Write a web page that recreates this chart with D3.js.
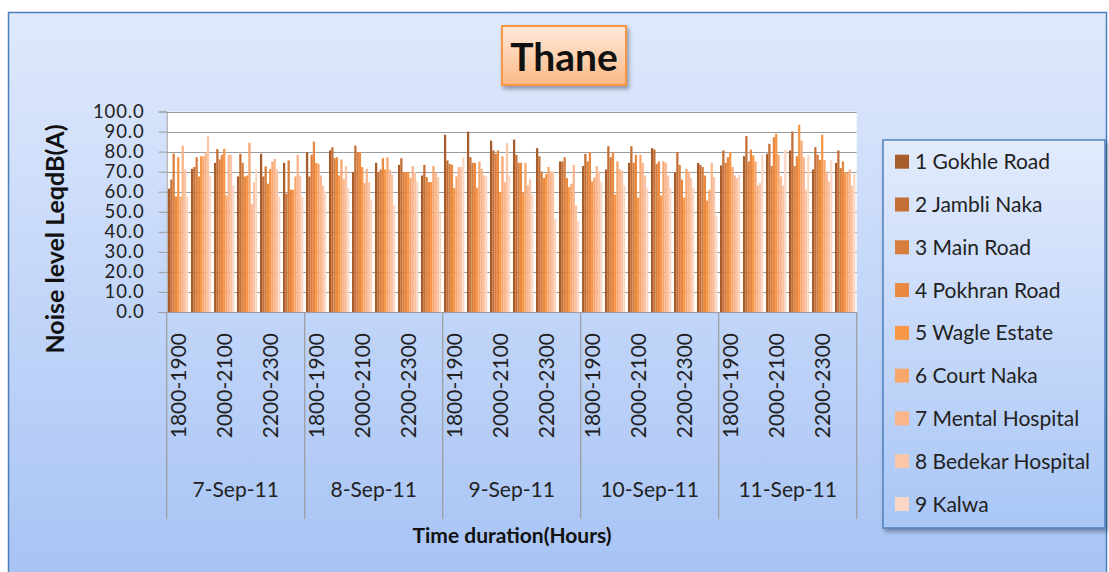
<!DOCTYPE html>
<html>
<head>
<meta charset="utf-8">
<script src="https://cdn.jsdelivr.net/npm/d3@7"></script>
<style>
  html, body { margin: 0; padding: 0; background: #ffffff; }
  svg { display: block; font-family: Lato, "Open Sans", sans-serif; }
</style>
</head>
<body>
<svg id="chart" width="1109" height="572"></svg>
<script>
// ---------------- DATA ----------------
const days = ["7-Sep-11", "8-Sep-11", "9-Sep-11", "10-Sep-11", "11-Sep-11"];
const hours = ["1800-1900", "1900-2000", "2000-2100", "2100-2200", "2200-2300", "2300-2400"];
const seriesNames = ["1 Gokhle Road", "2 Jambli Naka", "3 Main Road", "4 Pokhran Road",
  "5 Wagle Estate", "6 Court Naka", "7 Mental Hospital", "8 Bedekar Hospital", "9 Kalwa"];
const yTicks = [0, 10, 20, 30, 40, 50, 60, 70, 80, 90, 100];

// values ordered day by day, six hourly slots per day
const gokhleRoad     = [61.5,71.4,74.4,67.6,78.9,74.4, 79.7,80.6,69.8,74.4,73.4,68.1, 88.4,90.0,85.5,86.0,81.7,75.1, 72.8,71.1,74.4,81.7,69.8,74.4, 73.1,77.7,78.9,80.6,71.1,74.4];
const jambliNaka     = [66.1,72.3,81.2,78.9,67.6,59.0, 67.6,82.2,83.0,69.8,76.7,73.4, 75.6,77.2,80.6,78.4,77.7,75.1, 78.9,82.7,82.7,81.0,79.7,73.4, 80.6,87.7,83.9,90.0,82.2,80.6];
const mainRoad       = [79.0,77.2,76.1,74.4,72.6,75.6, 78.4,76.7,79.7,71.1,69.8,67.3, 73.9,74.4,78.9,74.4,70.1,77.2, 75.1,77.2,74.4,73.9,73.4,72.3, 74.4,75.1,72.8,72.8,78.4,71.8];
const pokhranRoad    = [57.6,67.6,78.4,67.6,64.0,61.0, 85.0,77.2,79.7,76.7,69.8,64.8, 73.4,74.4,80.6,74.4,66.8,66.8, 79.7,79.7,78.4,75.1,66.0,68.1, 77.2,81.0,87.2,77.7,75.9,75.1];
const wagleEstate    = [77.2,77.7,81.4,68.1,71.4,61.0, 74.4,68.1,72.3,71.1,69.8,64.8, 61.8,62.0,59.8,59.5,68.9,62.3, 65.1,58.6,57.0,58.1,57.0,55.6, 79.7,78.1,88.9,93.4,88.4,69.8];
const courtNaka      = [57.6,77.7,58.1,84.4,75.1,67.6, 73.9,76.1,64.3,77.2,67.0,72.8, 67.6,75.1,77.7,74.4,72.3,64.0, 67.0,75.1,78.4,75.1,71.4,61.0, 72.3,75.1,78.4,85.5,75.9,69.4];
const mentalHospital = [83.0,79.7,78.4,53.7,76.4,78.4, 68.1,66.4,71.4,71.1,72.8,69.4, 72.3,71.4,64.8,63.1,70.1,73.4, 72.8,71.1,74.4,74.4,70.1,74.4, 68.1,63.1,67.6,77.2,70.1,71.1];
const bedekarHospital= [71.1,87.7,78.4,64.8,71.1,68.1, 63.1,72.8,64.8,68.6,69.8,67.3, 72.3,68.1,84.2,66.2,70.1,53.2, 70.1,70.6,68.1,68.1,67.0,67.3, 66.8,64.3,63.1,61.0,65.1,63.1];
const kalwa          = [57.6,68.0,63.1,71.1,57.6,57.6, 60.0,62.0,55.6,53.2,65.0,49.5, 77.2,68.0,68.1,58.6,46.5,45.3, 64.8,63.1,62.0,62.0,62.0,48.2, 68.6,78.4,81.0,78.4,75.6,68.9];

const seriesValues = [gokhleRoad, jambliNaka, mainRoad, pokhranRoad, wagleEstate,
  courtNaka, mentalHospital, bedekarHospital, kalwa];
const seriesColors = ["#a65c2b", "#c46f35", "#d87e3c", "#ea8a40", "#f79646",
  "#f9a66d", "#fab58b", "#fbc6a8", "#fcd8c4"];

// ---------------- LAYOUT ----------------
const svg = d3.select("#chart");
const defs = svg.append("defs");
const plot = { left: 166.7, right: 856.7, top: 111.5, bottom: 312 };

const bg = defs.append("linearGradient").attr("id", "bgGrad").attr("x1", 0).attr("y1", 0).attr("x2", 0).attr("y2", 1);
bg.append("stop").attr("offset", "0%").attr("stop-color", "#dfe9fc");
bg.append("stop").attr("offset", "100%").attr("stop-color", "#a2c0f4");
const lg = defs.append("linearGradient").attr("id", "legGrad").attr("x1", 0).attr("y1", 0).attr("x2", 0).attr("y2", 1);
lg.append("stop").attr("offset", "0%").attr("stop-color", "#e2ebfc");
lg.append("stop").attr("offset", "100%").attr("stop-color", "#a9c6f6");
const tg = defs.append("linearGradient").attr("id", "titleGrad").attr("x1", 0).attr("y1", 0).attr("x2", 0).attr("y2", 1);
tg.append("stop").attr("offset", "0%").attr("stop-color", "#feeadb");
tg.append("stop").attr("offset", "100%").attr("stop-color", "#fbb986");
const sh = defs.append("filter").attr("id", "shadow").attr("x", "-10%").attr("y", "-10%").attr("width", "130%").attr("height", "130%");
sh.append("feDropShadow").attr("dx", 2).attr("dy", 3).attr("stdDeviation", 2).attr("flood-color", "#000").attr("flood-opacity", 0.35);

// chart area background
svg.append("rect").attr("x", 8.5).attr("y", 12.5).attr("width", 1098).attr("height", 620)
  .attr("fill", "url(#bgGrad)").attr("stroke", "#4a7ebb").attr("stroke-width", 1.5);

// plot background
svg.append("rect").attr("x", plot.left).attr("y", plot.top)
  .attr("width", plot.right - plot.left).attr("height", plot.bottom - plot.top).attr("fill", "#ffffff");

// scales
const catKeys = [];
days.forEach(d => hours.forEach(h => catKeys.push(d + "|" + h)));
const x0 = d3.scaleBand().domain(catKeys).range([plot.left, plot.right]).paddingInner(0.11).paddingOuter(0.055);
const x1 = d3.scaleBand().domain(d3.range(seriesNames.length)).range([0, x0.bandwidth()]);
const y = d3.scaleLinear().domain([0, 100]).range([plot.bottom, plot.top]);
const dayScale = d3.scaleBand().domain(days).range([plot.left, plot.right]);

// gridlines
svg.append("g").selectAll("line").data(yTicks.filter(t => t > 0)).join("line")
  .attr("x1", plot.left).attr("x2", plot.right)
  .attr("y1", d => Math.round(y(d)) + 0.5).attr("y2", d => Math.round(y(d)) + 0.5)
  .attr("stroke", "#9c9c9c").attr("stroke-width", 1.2);

// y axis
const yAxis = d3.axisLeft(y).tickValues(yTicks).tickFormat(d3.format(".1f")).tickSize(8).tickPadding(14);
const gy = svg.append("g").attr("transform", `translate(${plot.left},0)`).call(yAxis);
gy.select(".domain").attr("stroke", "#9c9c9c");
gy.selectAll(".tick line").attr("stroke", "#9c9c9c");
gy.selectAll(".tick text").attr("font-size", 18.5).attr("letter-spacing", "0.9px")
  .attr("fill", "#222").attr("font-family", "Lato");

// bars
const groups = svg.append("g").selectAll("g").data(catKeys).join("g")
  .attr("transform", d => `translate(${x0(d)},0)`);
groups.selectAll("rect").data((d, ci) => seriesValues.map((vals, si) => ({ si, v: vals[ci] }))).join("rect")
  .attr("x", d => x1(d.si)).attr("width", x1.bandwidth())
  .attr("y", d => y(d.v)).attr("height", d => y(0) - y(d.v))
  .attr("fill", d => seriesColors[d.si]);

// x axis line
svg.append("line").attr("x1", plot.left - 8).attr("x2", plot.right)
  .attr("y1", plot.bottom + 0.5).attr("y2", plot.bottom + 0.5).attr("stroke", "#9c9c9c");

// day separators
const sepX = days.map(d => dayScale(d)).concat([plot.right]);
svg.append("g").selectAll("line").data(sepX).join("line")
  .attr("x1", d => d).attr("x2", d => d).attr("y1", plot.bottom).attr("y2", 519)
  .attr("stroke", "#9c9c9c").attr("stroke-width", 1.2);

// hour labels (every other)
svg.append("g").selectAll("text").data(catKeys.filter((k, i) => i % 2 === 0)).join("text")
  .attr("transform", d => `translate(${x0(d) + x0.bandwidth() / 2},333) rotate(-90)`)
  .attr("text-anchor", "end").attr("dy", "0.36em")
  .attr("font-size", 21).attr("fill", "#222")
  .text(d => d.split("|")[1]);

// day labels
svg.append("g").selectAll("text").data(days).join("text")
  .attr("x", d => dayScale(d) + dayScale.bandwidth() / 2).attr("y", 497)
  .attr("text-anchor", "middle").attr("font-size", 21).attr("fill", "#222")
  .text(d => d);

// axis titles
svg.append("text").attr("transform", "translate(64,239) rotate(-90)")
  .attr("text-anchor", "middle").attr("font-size", 25).attr("font-weight", "bold").attr("fill", "#111")
  .text("Noise level LeqdB(A)");
svg.append("text").attr("x", 512).attr("y", 543)
  .attr("text-anchor", "middle").attr("font-size", 21).attr("font-weight", "bold").attr("fill", "#111")
  .text("Time duration(Hours)");

// title
svg.append("rect").attr("x", 502).attr("y", 26).attr("width", 124).attr("height", 59)
  .attr("fill", "url(#titleGrad)").attr("stroke", "#f79646").attr("stroke-width", 2)
  .attr("filter", "url(#shadow)");
svg.append("text").attr("x", 564).attr("y", 71).attr("text-anchor", "middle")
  .attr("font-size", 39).attr("font-weight", "bold").attr("fill", "#111").text("Thane");

// legend
svg.append("rect").attr("x", 883).attr("y", 140).attr("width", 222).attr("height", 388)
  .attr("fill", "url(#legGrad)").attr("stroke", "#4f81bd").attr("stroke-width", 1.5)
  .attr("filter", "url(#shadow)");
const legY = d3.scalePoint().domain(seriesNames).range([161.7, 504]);
const items = svg.append("g").selectAll("g").data(seriesNames).join("g")
  .attr("transform", d => `translate(0,${legY(d)})`);
items.append("rect").attr("x", 895).attr("y", -7).attr("width", 14).attr("height", 14)
  .attr("fill", (d, i) => seriesColors[i]);
items.append("text").attr("x", 915).attr("y", 7.5).attr("font-size", 21).attr("fill", "#222").text(d => d);
</script>
</body>
</html>
